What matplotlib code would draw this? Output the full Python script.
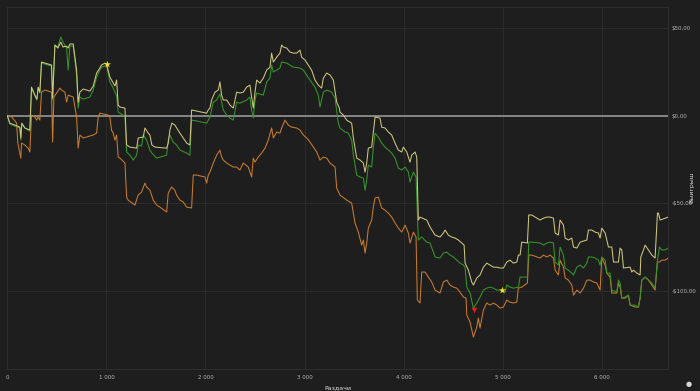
import matplotlib.pyplot as plt
from matplotlib.ticker import FuncFormatter

# Раздачи / выигрыш для трёх линий
yellow_hands = [0, 25, 76, 126, 136, 146, 177, 227, 244, 278, 298, 311, 328, 345, 379, 446, 457,
                480, 510, 540, 561, 598, 614, 631, 665, 682, 699, 715, 732, 766, 833, 867, 901,
                934, 951, 985, 1002, 1035, 1069, 1086, 1103, 1119, 1136, 1187, 1204, 1237, 1305,
                1321, 1372, 1389, 1422, 1439, 1459, 1490, 1608, 1624, 1641, 1661, 1691, 1742,
                1776, 1810, 1843, 1860, 1911, 2012, 2028, 2045, 2062, 2096, 2129, 2146, 2163,
                2180, 2214, 2247, 2281, 2315, 2348, 2382, 2416, 2449, 2466, 2483, 2500, 2517,
                2550, 2584, 2618, 2651, 2668, 2685, 2719, 2752, 2769, 2786, 2820, 2853, 2887,
                2921, 2954, 2971, 3005, 3038, 3072, 3106, 3139, 3173, 3190, 3224, 3257, 3291,
                3325, 3351, 3358, 3392, 3426, 3476, 3493, 3527, 3560, 3594, 3611, 3628, 3644,
                3678, 3695, 3712, 3762, 3779, 3813, 3846, 3880, 3914, 3947, 3981, 3998, 4032,
                4065, 4082, 4116, 4133, 4149, 4166, 4234, 4267, 4318, 4368, 4402, 4419, 4452,
                4486, 4520, 4553, 4587, 4611, 4621, 4654, 4688, 4705, 4739, 4772, 4806, 4840,
                4873, 4907, 4941, 4974, 5008, 5042, 5075, 5109, 5143, 5159, 5176, 5193, 5250,
                5264, 5294, 5378, 5412, 5446, 5479, 5513, 5530, 5563, 5580, 5614, 5631, 5664,
                5698, 5715, 5749, 5782, 5850, 5866, 5900, 5934, 5967, 5984, 6001, 6035, 6068,
                6102, 6119, 6169, 6186, 6203, 6220, 6287, 6304, 6321, 6355, 6388, 6395, 6422,
                6439, 6472, 6506, 6539, 6563, 6573, 6590, 6641, 6671]
yellow_win = [0, -4.2, -5.3, -6.5, -12.7, -4.2, -7.0, -8.2, 16.4, 11.8, 9.5, 16.4, 13.5, 30.7,
              30.1, 29.0, 10.1, 40.4, 38.7, 42.1, 39.3, 39.8, 38.7, 41.0, 41.0, 33.5, 26.1, 7.8,
              13.5, 15.3, 14.1, 17.0, 24.4, 27.3, 29.0, 30.1, 29.5, 22.1, 18.7, 17.0, 20.4, 6.1,
              5.0, 4.4, -16.7, -17.9, -18.5, -12.7, -12.2, -7.0, -9.9, -11.0, -16.7, -17.9,
              -18.5, -15.6, -8.2, -4.2, -5.3, -9.9, -12.7, -15.6, -16.7, 3.3, 2.7, 1.5, 3.3, 4.4,
              9.0, 13.5, 14.7, 19.3, 11.8, 9.0, 9.0, 6.1, 4.4, 13.5, 13.0, 13.5, 16.4, 17.5,
              10.7, 4.4, 13.5, 20.4, 18.7, 21.5, 26.1, 27.8, 35.8, 30.7, 33.5, 35.8, 40.4, 39.3,
              38.7, 36.4, 35.8, 35.8, 37.5, 33.5, 31.8, 29.0, 26.1, 20.4, 17.5, 15.8, 21.5,
              24.4, 23.3, 20.4, 7.8, 4.4, 2.1, 0.4, -2.5, -4.2, -12.7, -24.2, -25.3, -27.0,
              -32.2, -27.0, -18.5, -17.9, -9.3, -0.7, -1.3, -6.5, -7.0, -9.3, -11.0, -15.6,
              -19.6, -20.7, -17.9, -20.7, -26.5, -22.5, -20.7, -23.6, -59.6, -57.9, -59.6,
              -63.6, -68.2, -69.3, -67.0, -65.3, -68.2, -69.3, -69.9, -71.0, -72.7, -73.9,
              -84.2, -88.2, -95.0, -96.7, -92.7, -91.0, -86.5, -84.2, -85.3, -86.5, -86.5,
              -87.0, -87.0, -83.6, -82.5, -84.2, -83.6, -79.6, -79.6, -72.2, -72.7, -56.7,
              -56.7, -59.6, -58.5, -57.9, -57.9, -58.5, -67.0, -68.2, -59.6, -62.5, -69.9,
              -71.0, -69.9, -75.0, -75.6, -72.2, -71.0, -65.3, -65.3, -66.5, -67.0, -69.9,
              -64.2, -67.0, -75.0, -75.0, -83.6, -83.6, -75.6, -76.7, -87.0, -86.5, -89.3,
              -88.2, -89.9, -91.0, -80.7, -76.7, -73.9, -76.7, -79.6, -81.3, -55.6, -55.6,
              -59.6, -58.5, -57.9]

green_hands = [0, 25, 76, 126, 136, 146, 177, 227, 244, 278, 298, 311, 328, 345, 379, 446, 457,
               480, 510, 540, 561, 598, 614, 631, 665, 682, 699, 715, 732, 766, 833, 867, 901,
               934, 951, 985, 1002, 1035, 1069, 1086, 1103, 1119, 1136, 1187, 1204, 1237, 1271,
               1305, 1321, 1355, 1372, 1406, 1439, 1459, 1507, 1608, 1624, 1641, 1674, 1708,
               1742, 1810, 1843, 1860, 1911, 2012, 2045, 2079, 2113, 2146, 2163, 2180, 2214,
               2247, 2281, 2315, 2348, 2416, 2449, 2466, 2483, 2500, 2517, 2584, 2618, 2651,
               2668, 2685, 2719, 2752, 2769, 2820, 2853, 2887, 2954, 2988, 3022, 3055, 3106,
               3139, 3156, 3190, 3224, 3274, 3308, 3341, 3358, 3409, 3442, 3476, 3493, 3527,
               3560, 3594, 3611, 3628, 3644, 3678, 3695, 3712, 3745, 3779, 3813, 3846, 3880,
               3914, 3947, 3981, 4015, 4048, 4065, 4099, 4126, 4149, 4183, 4234, 4267, 4318,
               4368, 4402, 4436, 4469, 4503, 4537, 4570, 4604, 4621, 4638, 4671, 4705, 4739,
               4772, 4806, 4840, 4873, 4907, 4941, 4974, 4997, 5025, 5042, 5075, 5109, 5159,
               5176, 5250, 5264, 5294, 5378, 5412, 5446, 5479, 5513, 5530, 5563, 5580, 5614,
               5631, 5664, 5698, 5715, 5749, 5782, 5816, 5850, 5866, 5900, 5934, 5967, 5984,
               6001, 6035, 6052, 6085, 6102, 6153, 6169, 6186, 6203, 6237, 6270, 6287, 6338,
               6371, 6388, 6405, 6439, 6472, 6506, 6539, 6563, 6583, 6607, 6641, 6671]
green_win = [0, -4.7, -5.9, -7.0, -13.9, -4.7, -7.0, -8.7, 15.8, 11.3, 9.0, 15.8, 13.0, 30.1,
             29.5, 28.4, 9.0, 40.4, 39.3, 45.0, 42.1, 38.7, 26.1, 39.8, 39.8, 31.8, 23.3, 4.4,
             10.7, 9.5, 10.7, 14.7, 22.1, 26.1, 27.8, 28.4, 29.0, 19.3, 15.8, 13.5, 11.3, 2.1,
             1.5, -0.2, -20.7, -22.5, -25.3, -22.5, -16.7, -17.3, -11.0, -13.9, -19.6, -21.3,
             -24.2, -22.5, -13.9, -11.0, -15.0, -16.7, -19.6, -21.3, -22.5, -2.5, -3.0, -4.2,
             -0.7, 7.8, 9.0, 12.5, 7.8, 3.3, 0.4, -1.3, -2.5, 7.8, 7.2, 9.0, 10.7, 3.3, -1.3,
             9.0, 13.0, 11.8, 19.3, 21.5, 29.0, 25.0, 26.1, 27.3, 30.7, 30.1, 29.0, 27.8, 27.3,
             26.1, 23.3, 20.4, 16.4, 11.8, 5.0, 13.5, 14.7, 13.5, 10.1, -4.2, -7.0, -9.3,
             -9.9, -13.9, -22.5, -33.9, -35.0, -35.6, -42.5, -36.7, -28.2, -29.3, -17.9, -9.9,
             -12.2, -15.6, -17.9, -19.6, -21.3, -24.2, -29.9, -31.0, -29.3, -32.2, -37.9,
             -32.2, -35.0, -71.0, -69.3, -72.2, -72.7, -80.7, -81.3, -78.5, -77.9, -79.6,
             -80.7, -82.5, -84.2, -85.3, -86.5, -97.9, -101.3, -109.9, -107.0, -103.6, -99.6,
             -98.5, -97.9, -98.5, -99.6, -99.6, -99.6, -100.8, -96.7, -97.9, -98.5, -97.9,
             -92.2, -92.2, -72.2, -72.2, -72.7, -73.9, -72.7, -72.2, -72.7, -83.6, -85.3,
             -75.0, -79.6, -87.0, -88.2, -89.9, -91.0, -86.5, -85.3, -87.0, -84.2, -80.7,
             -80.7, -81.3, -82.5, -85.3, -80.7, -82.5, -89.9, -89.9, -99.6, -100.8, -93.9,
             -95.6, -104.2, -103.6, -102.5, -108.2, -108.2, -109.3, -104.2, -93.9, -92.2,
             -93.9, -95.6, -98.5, -82.5, -75.0, -76.7, -76.7, -75.6]

orange_hands = [0, 45, 93, 106, 126, 136, 143, 177, 210, 227, 244, 278, 295, 311, 328, 345, 379,
                446, 457, 470, 497, 530, 547, 581, 598, 614, 665, 699, 715, 732, 766, 867, 901,
                917, 934, 1018, 1035, 1052, 1069, 1086, 1103, 1119, 1136, 1187, 1204, 1220,
                1288, 1321, 1355, 1389, 1406, 1439, 1473, 1507, 1540, 1608, 1624, 1658, 1691,
                1708, 1742, 1776, 1810, 1860, 1877, 1911, 1995, 2012, 2028, 2045, 2079, 2113,
                2146, 2163, 2180, 2214, 2247, 2281, 2315, 2348, 2382, 2432, 2466, 2483, 2500,
                2533, 2567, 2601, 2634, 2668, 2685, 2719, 2752, 2769, 2803, 2836, 2870, 2921,
                2954, 2988, 3022, 3055, 3089, 3123, 3156, 3190, 3224, 3257, 3308, 3325, 3358,
                3426, 3476, 3510, 3543, 3577, 3594, 3611, 3628, 3644, 3678, 3695, 3712, 3745,
                3779, 3813, 3846, 3880, 3914, 3947, 3981, 4015, 4048, 4065, 4099, 4126, 4139,
                4166, 4183, 4217, 4250, 4284, 4318, 4368, 4402, 4436, 4469, 4503, 4537, 4570,
                4604, 4631, 4638, 4671, 4705, 4739, 4755, 4772, 4806, 4840, 4873, 4907, 4941,
                4974, 5008, 5042, 5075, 5109, 5143, 5159, 5193, 5250, 5264, 5294, 5378, 5412,
                5446, 5479, 5513, 5530, 5563, 5580, 5614, 5631, 5664, 5698, 5715, 5749, 5782,
                5816, 5850, 5883, 5917, 5951, 5984, 6001, 6035, 6052, 6085, 6102, 6153, 6169,
                6186, 6203, 6237, 6270, 6287, 6338, 6371, 6388, 6405, 6439, 6472, 6506, 6539,
                6563, 6583, 6607, 6641, 6671]
orange_win = [0, -0.7, -4.2, -15.6, -21.3, -24.2, -15.6, -16.7, -18.5, -20.7, 0.4, -0.7, -2.5,
              -0.7, -2.5, 13.5, 14.7, 13.5, -15.0, 10.7, 13.0, 15.8, 14.7, 13.5, 7.8, 11.8,
              10.7, -0.7, -18.5, -11.0, -12.7, -11.0, -9.9, -0.7, 1.5, 0.4, -0.7, -8.2, -9.9,
              -13.9, -11.0, -23.6, -24.2, -27.0, -46.5, -48.2, -51.0, -45.3, -43.6, -38.5,
              -40.7, -42.5, -48.2, -51.0, -52.2, -55.0, -44.2, -40.7, -42.5, -45.3, -48.2,
              -49.3, -52.2, -52.7, -33.9, -33.9, -35.0, -38.5, -33.9, -32.2, -27.0, -22.5,
              -19.6, -23.6, -25.3, -27.0, -28.2, -29.3, -29.3, -31.0, -27.0, -29.3, -35.0,
              -24.2, -26.5, -23.6, -21.3, -18.5, -13.9, -7.0, -12.7, -9.3, -9.9, -7.0, -2.5,
              -5.3, -6.5, -7.0, -8.2, -11.0, -12.7, -15.0, -17.9, -20.7, -25.3, -23.6, -24.2,
              -27.0, -29.3, -41.3, -45.3, -48.2, -49.9, -61.3, -66.5, -73.9, -71.0, -78.5,
              -72.7, -64.2, -59.6, -52.2, -47.0, -46.5, -52.7, -53.9, -55.6, -57.9, -61.3,
              -64.2, -66.5, -62.5, -67.0, -72.7, -66.5, -69.3, -105.3, -107.0, -89.3, -89.3,
              -92.2, -95.0, -99.6, -101.3, -95.0, -93.9, -96.7, -97.9, -98.5, -100.8, -103.6,
              -104.2, -113.9, -117.9, -126.5, -120.7, -115.6, -121.3, -111.0, -107.0, -108.2,
              -107.0, -108.2, -109.9, -109.3, -105.3, -106.5, -107.0, -106.5, -98.5, -97.9,
              -95.6, -79.6, -79.6, -81.3, -79.6, -80.7, -79.6, -81.3, -88.2, -91.0, -82.5,
              -86.5, -92.7, -93.9, -96.7, -102.5, -99.6, -101.3, -98.5, -93.9, -93.9, -95.0,
              -95.6, -99.6, -81.3, -85.3, -89.9, -92.2, -101.3, -101.3, -95.6, -97.9, -104.2,
              -104.2, -102.5, -108.2, -109.3, -109.3, -104.2, -93.9, -92.2, -93.9, -96.7,
              -99.6, -83.6, -83.6, -82.5, -82.5, -81.3]

# отметки на графике
star_hands = [1005, 4997]
star_win = [29.4, -99.6]
low_hand = 4712
low_win = -111.0

x_ticks = [0, 1000, 2000, 3000, 4000, 5000, 6000]
y_ticks = [-100, -50, 0, 50]

bg = '#1e1e1e'
text_col = '#b8b8b8'

fig = plt.figure(figsize=(7, 3.91), dpi=100, facecolor=bg)
ax = fig.add_axes([0.0105, 0.0563, 0.944, 0.926], facecolor=bg)

ax.plot(orange_hands, orange_win, color='#c97b2e', lw=0.75, zorder=3)
ax.plot(green_hands, green_win, color='#369628', lw=0.75, zorder=4)
ax.plot(yellow_hands, yellow_win, color='#cfc67e', lw=0.75, zorder=5)
ax.axhline(0, color='#a0a0a0', lw=1.1, zorder=2)

ax.scatter(star_hands, star_win, marker='*', s=28, color='#f2e21a', zorder=6, linewidths=0)
ax.scatter([low_hand], [low_win], marker='v', s=16, color='#e02020', zorder=6, linewidths=0)

ax.set_xlim(0, yellow_hands[-1])
ax.set_ylim(-144.7, 62.2)

ax.set_xticks(x_ticks)
ax.set_yticks(y_ticks)
ax.xaxis.set_major_formatter(FuncFormatter(lambda v, p: f'{int(v):,}'.replace(',', ' ')))
ax.yaxis.set_major_formatter(FuncFormatter(
    lambda v, p: ('-' if v < 0 else '') + '$' + f'{abs(v):.2f}'.replace('.', ',')))
ax.yaxis.tick_right()
ax.tick_params(axis='both', length=0, labelsize=4, colors=text_col)
ax.tick_params(axis='x', pad=4)
ax.tick_params(axis='y', pad=2.5)

ax.grid(True, color='#2c2c2c', lw=0.7, zorder=0)
for s in ax.spines.values():
    s.set_color('#2e2e2e')
    s.set_linewidth(0.7)

ax.set_xlabel('Раздачи', fontsize=4.5, color='#e0e0e0', labelpad=4)
# подпись оси Y ставим вручную, чтобы не обрезалась
fig.text(0.988, 0.52, 'Выигрыш', fontsize=4.5, color='#e0e0e0', rotation=90,
         ha='center', va='center')

# значок в правом нижнем углу
fig.text(0.984, 0.018, '●', fontsize=5, color='#d8d8d8', ha='center', va='center')

fig.savefig('out.png', dpi=100, facecolor=bg)
